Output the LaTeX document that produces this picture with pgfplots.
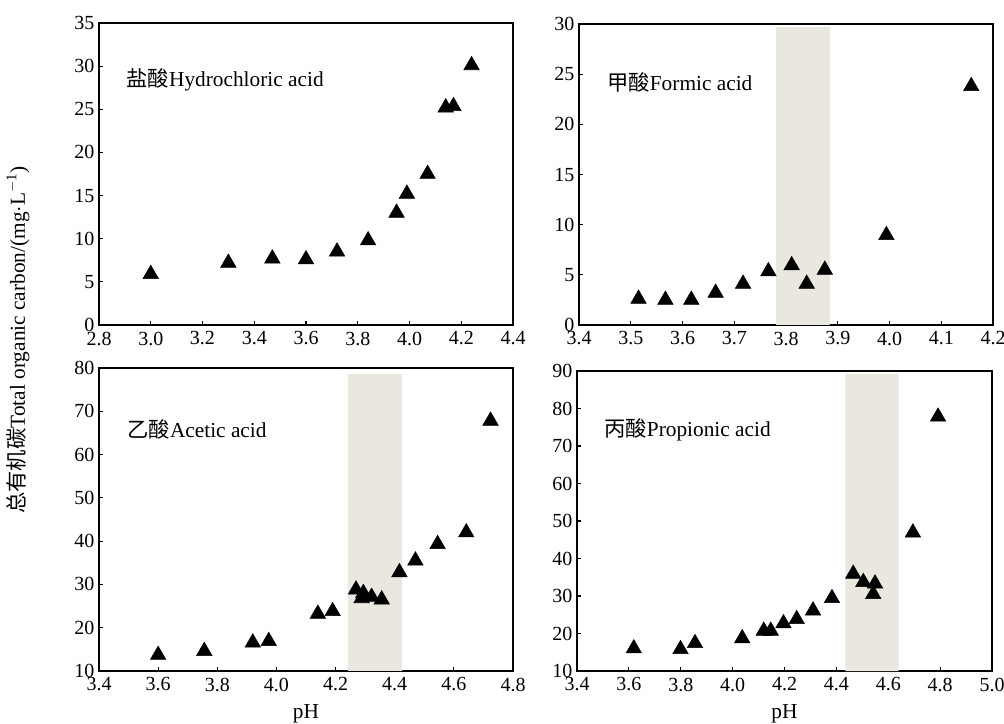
\documentclass[border=0pt]{standalone}
\usepackage{fontspec}
\setmainfont{Liberation Serif}
\newfontfamily\cjk{Noto Sans CJK SC}
\usepackage{pgfplots}
\pgfplotsset{compat=1.18}
\definecolor{shade}{RGB}{234,231,223}
\pgfplotsset{
  panel/.style={
    scale only axis, anchor=north west,
    tick align=inside, tick pos=left,
    axis line style={line width=0.9pt},
    major tick length=3pt,
    tick style={black, line width=0.8pt},
    every tick label/.append style={font=\fontsize{15}{18}\selectfont},
    /pgf/number format/assume math mode=true,
    xticklabel style={yshift=-1.5pt, /pgf/number format/.cd, fixed, fixed zerofill, precision=1},
    yticklabel style={/pgf/number format/.cd, fixed, precision=0},
    xlabel style={font=\fontsize{16}{19}\selectfont, yshift=-3pt},
  },
  tri/.style={only marks, mark=triangle*, mark size=6.7pt, black},
}
\tikzset{lab/.style={anchor=west, font=\fontsize{16}{19}\selectfont, inner sep=0pt}}
\begin{document}
\begin{tikzpicture}
\useasboundingbox (0,0) rectangle (753pt,-543pt);
% Panel 1: HCl
\begin{axis}[panel, at={(74.25pt,-17.25pt)}, width=310.5pt, height=226.5pt,
  xmin=2.8, xmax=4.4, ymin=0, ymax=35,
  xtick={2.8,3.0,3.2,3.4,3.6,3.8,4.0,4.2,4.4}, ytick={0,5,10,15,20,25,30,35}]
\addplot[tri] coordinates {
(3.00,5.9) (3.30,7.2) (3.47,7.7) (3.60,7.6) (3.72,8.5) (3.84,9.8)
(3.95,13.0) (3.99,15.2) (4.07,17.5) (4.14,25.2) (4.17,25.35) (4.24,30.1)};
\node[lab] at (axis cs:2.905,28.4) {{\cjk 盐酸}Hydrochloric acid};
\end{axis}
% Panel 2: Formic
\begin{axis}[panel, at={(434.25pt,-18pt)}, width=310.5pt, height=225.75pt,
  xmin=3.4, xmax=4.2, ymin=0, ymax=30,
  xtick={3.4,3.5,3.6,3.7,3.8,3.9,4.0,4.1,4.2}, ytick={0,5,10,15,20,25,30}]
\addplot[fill=shade, draw=none] coordinates {(3.781,0) (3.885,0) (3.885,29.7) (3.781,29.7) (3.781,0)};
\addplot[tri] coordinates {
(3.515,2.6) (3.567,2.5) (3.617,2.5) (3.664,3.2) (3.717,4.1) (3.766,5.35)
(3.811,5.95) (3.840,4.1) (3.875,5.5) (3.994,8.95) (4.158,23.8)};
\node[lab] at (axis cs:3.454,24.2) {{\cjk 甲酸}Formic acid};
\end{axis}
% Panel 3: Acetic
\begin{axis}[panel, at={(74.25pt,-276pt)}, width=310.5pt, height=227.25pt,
  xmin=3.4, xmax=4.8, ymin=10, ymax=80,
  xtick={3.4,3.6,3.8,4.0,4.2,4.4,4.6,4.8}, ytick={10,20,30,40,50,60,70,80},
  xlabel={pH}]
\addplot[fill=shade, draw=none] coordinates {(4.242,10) (4.425,10) (4.425,78.6) (4.242,78.6) (4.242,10)};
\addplot[tri] coordinates {
(3.60,13.7) (3.756,14.6) (3.92,16.55) (3.974,16.9) (4.14,23.2) (4.19,23.8)
(4.269,28.8) (4.288,26.8) (4.294,28.0) (4.322,27.1) (4.356,26.5)
(4.416,32.8) (4.47,35.5) (4.545,39.3) (4.642,42.0) (4.724,67.8)};
\node[lab] at (axis cs:3.495,65.7) {{\cjk 乙酸}Acetic acid};
\end{axis}
% Panel 4: Propionic
\begin{axis}[panel, at={(432.75pt,-278.25pt)}, width=311.25pt, height=225pt,
  xmin=3.4, xmax=5.0, ymin=10, ymax=90,
  xtick={3.4,3.6,3.8,4.0,4.2,4.4,4.6,4.8,5.0}, ytick={10,20,30,40,50,60,70,80,90},
  xlabel={pH}]
\addplot[fill=shade, draw=none] coordinates {(4.435,10) (4.64,10) (4.64,89.2) (4.435,89.2) (4.435,10)};
\addplot[tri] coordinates {
(3.619,16.0) (3.799,15.8) (3.855,17.4) (4.037,18.7) (4.12,20.7) (4.147,20.7)
(4.196,22.7) (4.247,23.8) (4.31,26.1) (4.383,29.4) (4.465,35.9) (4.504,33.7)
(4.549,33.3) (4.542,30.5) (4.695,46.9) (4.792,77.8)};
\node[lab] at (axis cs:3.504,74.3) {{\cjk 丙酸}Propionic acid};
\end{axis}
\node[rotate=90, font=\fontsize{16}{19}\selectfont, inner sep=0pt] at (13.5pt,-255pt)
  {{\cjk 总有机碳}Total organic carbon/(mg$\cdot$L\textsuperscript{$-$1})};
\end{tikzpicture}
\end{document}
